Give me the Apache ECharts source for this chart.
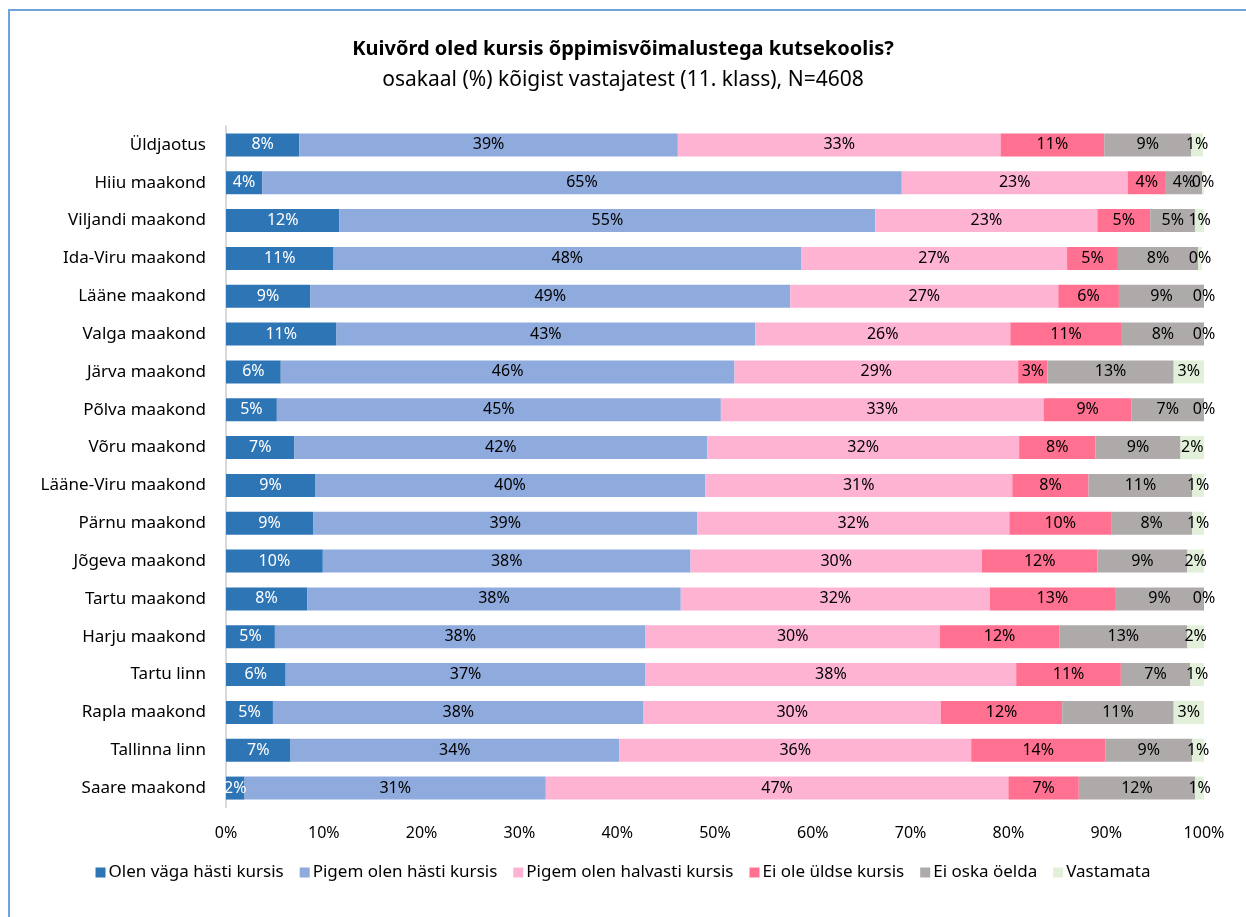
<!DOCTYPE html>
<html>

<head>
    <meta charset="utf-8" />
    <script src="https://cdn.jsdelivr.net/npm/echarts@6/dist/echarts.min.js"></script>
</head>

<body style="margin:0;background:#fff;">
    <div id="main" style="width: 1246px;height:917px;"></div>
    <script type="text/javascript">
        const categories = ["Üldjaotus", "Hiiu maakond", "Viljandi maakond", "Ida-Viru maakond", "Lääne maakond",
            "Valga maakond", "Järva maakond", "Põlva maakond", "Võru maakond", "Lääne-Viru maakond", "Pärnu maakond",
            "Jõgeva maakond", "Tartu maakond", "Harju maakond", "Tartu linn", "Rapla maakond", "Tallinna linn",
            "Saare maakond"];

        const seriesNames = ["Olen väga hästi kursis", "Pigem olen hästi kursis", "Pigem olen halvasti kursis",
            "Ei ole üldse kursis", "Ei oska öelda", "Vastamata"];

        const vagaHasti = [7.5, 3.7, 11.6, 11.0, 8.6, 11.3, 5.6, 5.2, 7.0, 9.1, 8.9, 9.9, 8.3, 5.0, 6.1, 4.8, 6.6, 1.9];
        const pigemHasti = [38.7, 65.4, 54.8, 47.8, 49.1, 42.8, 46.4, 45.4, 42.2, 39.9, 39.3, 37.6, 38.2, 37.9, 36.8, 37.9, 33.6, 30.8];
        const pigemHalvasti = [33.0, 23.1, 22.7, 27.2, 27.4, 26.1, 29.0, 33.0, 31.9, 31.4, 31.9, 29.8, 31.6, 30.1, 37.9, 30.4, 36.0, 47.3];
        const uldseMitte = [10.6, 3.9, 5.4, 5.2, 6.2, 11.4, 3.0, 9.0, 7.8, 7.8, 10.4, 11.8, 12.8, 12.2, 10.7, 12.4, 13.7, 7.2];
        const eiOska = [8.9, 3.7, 4.6, 8.2, 8.7, 8.4, 12.9, 7.4, 8.7, 10.6, 8.3, 9.2, 9.1, 13.1, 7.1, 11.4, 8.9, 11.9];
        const vastamata = [1.2, 0.2, 0.9, 0.4, 0, 0, 3.1, 0, 2.4, 1.2, 1.2, 1.7, 0, 1.7, 1.4, 3.1, 1.2, 0.9];

        const xTicks = [0, 10, 20, 30, 40, 50, 60, 70, 80, 90, 100];

        const seriesData = [vagaHasti, pigemHasti, pigemHalvasti, uldseMitte, eiOska, vastamata];
        const colors = ['#2E75B6', '#8FAADC', '#FFB3D3', '#FF7091', '#AEAAAA', '#E2F0D9'];
        const FONT = 'Noto Sans';

        const myChart = echarts.init(document.getElementById('main'));
        myChart.setOption({
            animation: false,
            textStyle: { fontFamily: FONT },
            graphic: [{
                type: 'rect',
                shape: { x: 9, y: 10, width: 1400, height: 1000 },
                style: { fill: 'none', stroke: '#6FA3DC', lineWidth: 2 },
                silent: true
            }],
            title: {
                text: 'Kuivõrd oled kursis õppimisvõimalustega kutsekoolis?',
                subtext: 'osakaal (%) kõigist vastajatest (11. klass), N=4608',
                left: 'center',
                top: 34,
                itemGap: 11,
                textStyle: { fontSize: 20, fontWeight: 'bold', color: '#000', fontFamily: FONT },
                subtextStyle: { fontSize: 21, color: '#000', fontFamily: FONT }
            },
            legend: {
                data: seriesNames,
                left: 'center',
                top: 859,
                itemWidth: 10,
                itemHeight: 10,
                itemGap: 16,
                icon: 'rect',
                textStyle: { fontSize: 17, color: '#000', padding: [0, 0, 0, -2] }
            },
            grid: { left: 226, right: 42, top: 126, bottom: 110, containLabel: false },
            xAxis: {
                type: 'value',
                min: 0,
                max: 100,
                interval: 10,
                axisLine: { show: false },
                axisTick: { show: false },
                splitLine: { show: false },
                axisLabel: {
                    fontSize: 16, color: '#000', margin: 18,
                    formatter: v => xTicks.includes(v) ? v + '%' : ''
                }
            },
            yAxis: {
                type: 'category',
                data: categories,
                inverse: true,
                axisLine: { show: true, lineStyle: { color: '#D9D9D9', width: 2 } },
                axisTick: { show: false },
                axisLabel: { fontSize: 17, color: '#000', margin: 20 }
            },
            series: seriesNames.map((name, i) => ({
                name: name,
                type: 'bar',
                stack: 'total',
                barWidth: 23,
                data: seriesData[i],
                itemStyle: { color: colors[i] },
                label: {
                    show: true,
                    position: 'inside',
                    fontSize: 16,
                    color: i === 0 ? '#fff' : '#000',
                    formatter: p => Math.round(p.value) + '%'
                }
            }))
        });
    </script>
</body>

</html>
